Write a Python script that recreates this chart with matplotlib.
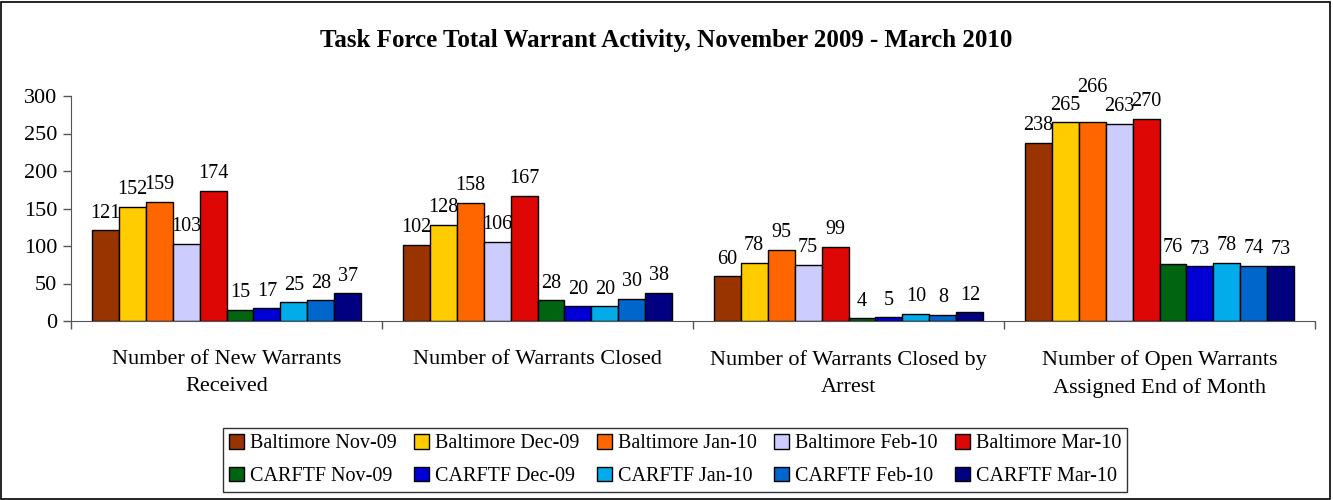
import matplotlib.pyplot as plt
import numpy as np
from matplotlib.patches import Rectangle

categories = [
    "Number of New Warrants\nReceived",
    "Number of Warrants Closed",
    "Number of Warrants Closed by\nArrest",
    "Number of Open Warrants\nAssigned End of Month",
]
series_names = [
    "Baltimore Nov-09", "Baltimore Dec-09", "Baltimore Jan-10",
    "Baltimore Feb-10", "Baltimore Mar-10",
    "CARFTF Nov-09", "CARFTF Dec-09", "CARFTF Jan-10",
    "CARFTF Feb-10", "CARFTF Mar-10",
]
baltimore_nov09 = [121, 102, 60, 238]
baltimore_dec09 = [152, 128, 78, 265]
baltimore_jan10 = [159, 158, 95, 266]
baltimore_feb10 = [103, 106, 75, 263]
baltimore_mar10 = [174, 167, 99, 270]
carftf_nov09 = [15, 28, 4, 76]
carftf_dec09 = [17, 20, 5, 73]
carftf_jan10 = [25, 20, 10, 78]
carftf_feb10 = [28, 30, 8, 74]
carftf_mar10 = [37, 38, 12, 73]
series_values = [
    baltimore_nov09, baltimore_dec09, baltimore_jan10, baltimore_feb10,
    baltimore_mar10, carftf_nov09, carftf_dec09, carftf_jan10,
    carftf_feb10, carftf_mar10,
]
colors = [
    "#993300", "#FFCC00", "#FF6600", "#CCCCFF", "#DD0806",
    "#006411", "#0000D4", "#02ABEA", "#0066CC", "#000080",
]
# Excel nudged a few crowded labels upward (series index, category index)
label_lift = {(2, 3): 22}

plt.rcParams["font.family"] = ["Liberation Serif", "DejaVu Serif"]

fig = plt.figure(figsize=(13.33, 5.0), dpi=100)
ax = fig.add_axes([71 / 1333, 1 - 321 / 500, (1315 - 71) / 1333, (321 - 96) / 500])

n = len(series_values)
bar_w = 0.868 / n
x = np.arange(len(categories))
handles = []
for i, (vals, col) in enumerate(zip(series_values, colors)):
    pos = x - 0.434 + bar_w * (i + 0.5)
    bars = ax.bar(pos, vals, width=bar_w, color=col, edgecolor="black",
                  linewidth=1.0, label=series_names[i])
    handles.append(bars)
    for j, (p, v) in enumerate(zip(pos, vals)):
        ax.text(p, v + 10 + label_lift.get((i, j), 0), str(v),
                ha="center", va="bottom", fontsize=14.5)

ax.set_xlim(-0.5, len(categories) - 0.5)
ax.set_ylim(0, 300)
ax.set_yticks(range(0, 301, 50))
ax.tick_params(axis="y", labelsize=16, direction="out", length=6, width=1, pad=4)
ax.set_xticks(x)
ax.set_xticklabels(categories, fontsize=16, linespacing=1.55)
ax.tick_params(axis="x", length=0, pad=21)
ax.set_xticks(np.arange(-0.5, len(categories)), minor=True)
ax.tick_params(axis="x", which="minor", direction="out", length=6, width=1)
for side in ("top", "right"):
    ax.spines[side].set_visible(False)
ax.spines["left"].set_color("#555555")
ax.spines["bottom"].set_color("#555555")
ax.tick_params(axis="both", which="both", color="#555555")

order = []
for k in range(5):
    order += [k, k + 5]
leg = fig.legend([handles[k] for k in order], [series_names[k] for k in order],
                 ncol=5, loc="center", bbox_to_anchor=(675 / 1333, 1 - 460 / 500),
                 fontsize=14.5, frameon=True, fancybox=False, edgecolor="black",
                 handlelength=0.75, handleheight=0.75, handletextpad=0.3,
                 columnspacing=0.85, borderpad=0.3, borderaxespad=0,
                 labelspacing=0.65)
leg.get_frame().set_linewidth(1.0)

fig.text(0.5, 1 - 40 / 500, "Task Force Total Warrant Activity, November 2009 - March 2010",
         ha="center", va="center", fontsize=18, fontweight="bold")

fig.patches.append(Rectangle((0.001, 0.002), 0.997, 0.995, transform=fig.transFigure,
                             fill=False, edgecolor="black", linewidth=1.2))

fig.savefig("out.png", dpi=100)
